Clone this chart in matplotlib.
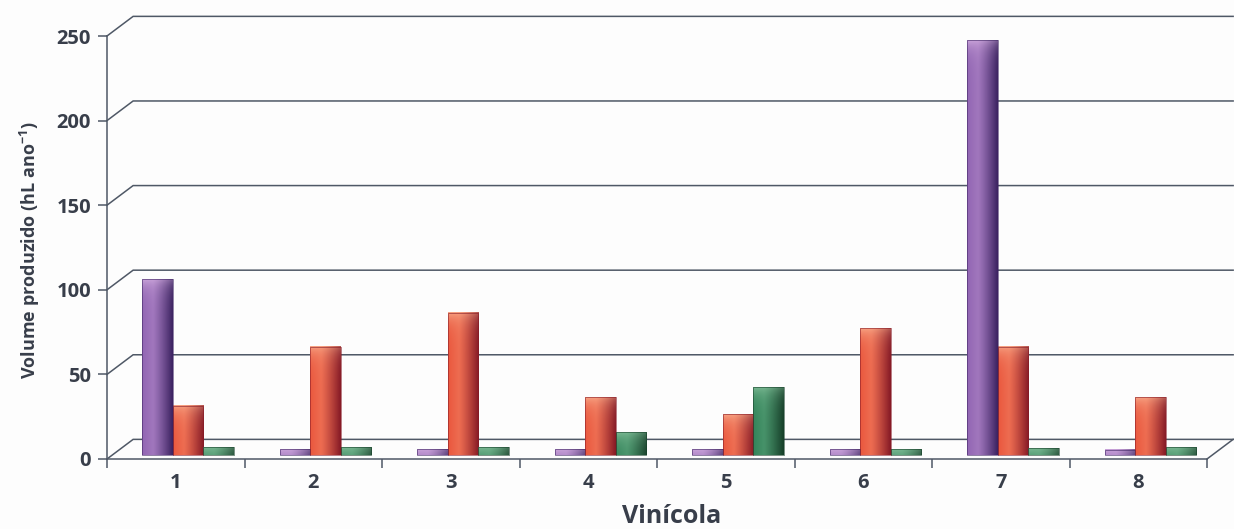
import numpy as np
import matplotlib
matplotlib.use("Agg")
import matplotlib.pyplot as plt
from matplotlib.patches import Rectangle
from matplotlib.colors import to_rgb

plt.rcParams['font.family'] = ['Open Sans', 'DejaVu Sans']
plt.rcParams['mathtext.fontset'] = 'custom'
plt.rcParams['mathtext.rm'] = 'Open Sans'
plt.rcParams['mathtext.bf'] = 'Open Sans:bold'

# dados (hL/ano) por vinícola
vinicolas = ['1', '2', '3', '4', '5', '6', '7', '8']
serie_roxa = [104, 3.5, 3.5, 3.5, 3.5, 3.5, 245, 3]
serie_vermelha = [29, 64, 84, 34, 24, 75, 64, 34]
serie_verde = [4.5, 4.5, 4.5, 13.5, 40, 3.5, 4, 4.5]
yticks = [0, 50, 100, 150, 200, 250]

LINE = '#4f5866'
TEXT = '#383e4a'

# profundidade da "caixa" 3D (em unidades de dados)
DX, DY = 0.19, 11.6
# deslocamento das barras para dentro da caixa
BDX, BDY = 0.09, 2.4
BW = 0.222

# (claro, médio, escuro) de cada série
cores = [('#dcb8e6', '#9266b3', '#3c2361'),
         ('#fbbd9c', '#ea583e', '#861a26'),
         ('#93caa6', '#33845a', '#163f29')]

fig = plt.figure(figsize=(12.34, 5.29), dpi=100)
fig.patch.set_facecolor('#fdfdfd')
W, H = 1234, 529
ax = fig.add_axes([107 / W, (H - 459) / H, 1100 / W, 423 / H])
ax.set_facecolor('none')

# paredes: linhas de grade em perspectiva
for v in yticks:
    ax.plot([0, DX, 8 + DX], [v, v + DY, v + DY], color=LINE, lw=1.1,
            clip_on=False, solid_joinstyle='miter', zorder=1)
# piso
ax.plot([8, 8 + DX], [0, DY], color=LINE, lw=1.1, clip_on=False, zorder=1)


def gradiente(claro, medio, escuro, altura_px, nx=40):
    claro, medio, escuro = (np.array(to_rgb(c)) for c in (claro, medio, escuro))
    xs = np.linspace(0, 1, nx)
    # horizontal: médio -> um pouco mais claro -> escuro
    t = np.clip((xs - 0.35) / 0.65, 0, 1) ** 1.2
    claro_lado = medio + 0.2 * (claro - medio)
    lado = np.where(xs[:, None] < 0.35,
                    medio + (xs[:, None] / 0.35) * (claro_lado - medio),
                    claro_lado * (1 - t[:, None]) + escuro * t[:, None])
    ny = max(int(altura_px), 2)
    d = np.arange(ny)[:, None, None]
    brilho = np.exp(-d / 9.0) * 0.75 * (1 - 0.5 * xs[None, :, None])
    img = lado[None, :, :] * (1 - brilho) + claro * brilho
    return np.clip(img, 0, 1)


px_por_unidade = 423 / 250
for s, serie in enumerate([serie_roxa, serie_vermelha, serie_verde]):
    for i, v in enumerate(serie):
        x0 = i + 0.5 + BDX - 1.5 * BW + s * BW
        y0, y1 = BDY, BDY + v
        img = gradiente(*cores[s], v * px_por_unidade)
        ax.imshow(img, extent=[x0, x0 + BW, y0, y1], origin='upper',
                  aspect='auto', interpolation='bilinear', zorder=3,
                  clip_on=False)
        ax.add_patch(Rectangle((x0, y0), BW, v, fill=False, lw=0.4,
                               edgecolor=cores[s][2], zorder=4, clip_on=False))

ax.set_xlim(0, 8)
ax.set_ylim(0, 250)

for lado in ['top', 'right']:
    ax.spines[lado].set_visible(False)
for lado in ['left', 'bottom']:
    ax.spines[lado].set_color(LINE)
    ax.spines[lado].set_linewidth(1.1)

ax.set_yticks(yticks)
ax.set_yticklabels([str(v) for v in yticks])
ax.set_xticks(range(9))
ax.set_xticklabels([''] * 9)
ax.set_xticks(np.arange(8) + 0.5, minor=True)
ax.set_xticklabels(vinicolas, minor=True)
ax.tick_params(axis='y', direction='out', length=6.5, width=1.1, color=LINE,
               pad=5, labelsize=14.5, labelcolor=TEXT)
ax.tick_params(axis='x', which='major', direction='out', length=6.5, width=1.1,
               color=LINE)
ax.tick_params(axis='x', which='minor', length=0, pad=10, labelsize=14.5,
               labelcolor=TEXT)
for lab in ax.get_yticklabels() + ax.get_xticklabels(minor=True):
    lab.set_fontweight('bold')

fig.text(672 / W, 1 - 523 / H, 'Vinícola', ha='center', va='baseline',
         fontsize=18, fontweight='bold', color=TEXT)
fig.text(30 / W, 1 - 250 / H, r'Volume produzido (hL ano$^{\mathbf{-1}}$)',
         rotation=90, ha='center', va='center', fontsize=13,
         fontweight='bold', color=TEXT)

fig.savefig('out.png', dpi=100, facecolor=fig.get_facecolor())
